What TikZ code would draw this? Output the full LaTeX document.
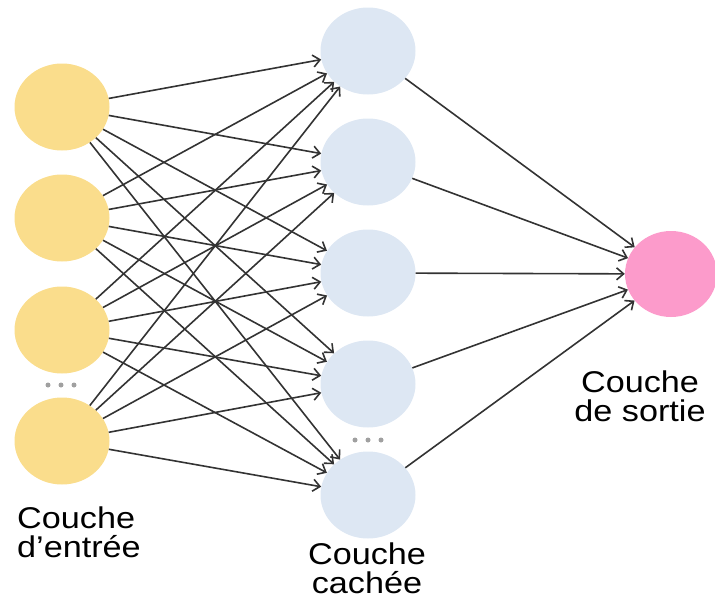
\documentclass[tikz,border=0pt]{standalone}
\usepackage{fontspec}
\setmainfont{Liberation Sans}[FakeStretch=1.14]
\usetikzlibrary{shapes.geometric,arrows.meta}

\definecolor{inputfill}{HTML}{FADD8C}
\definecolor{hiddenfill}{HTML}{DDE7F3}
\definecolor{outputfill}{HTML}{FC9BCB}
\definecolor{edgecol}{HTML}{333333}
\definecolor{dotcol}{HTML}{A0A0A0}

\tikzset{
  neuron/.style={ellipse, inner sep=0pt, minimum width=95pt, minimum height=87pt, draw=none},
  inneuron/.style={neuron, fill=inputfill},
  hidneuron/.style={neuron, fill=hiddenfill},
  outneuron/.style={neuron, fill=outputfill, minimum width=92pt, minimum height=86pt},
  link/.style={draw=edgecol, line width=1.6pt, -{Straight Barb[length=7pt, width=12pt, line width=1.6pt]}},
  ellip/.style={circle, fill=dotcol, inner sep=0pt, minimum size=5pt},
  caption/.style={inner sep=0pt, font=\fontsize{30}{29}\selectfont, text=black}
}

\begin{document}
\begin{tikzpicture}[x=1pt, y=-1pt]
  \useasboundingbox (0,0) rectangle (715,600);

  % input layer
  \node[inneuron] (i1) at (62,107) {};
  \node[inneuron] (i2) at (62,218) {};
  \node[inneuron] (i3) at (62,330) {};
  \node[inneuron] (i4) at (62,441) {};

  % hidden layer
  \node[hidneuron] (h1) at (368,51) {};
  \node[hidneuron] (h2) at (368,162) {};
  \node[hidneuron] (h3) at (368,273) {};
  \node[hidneuron] (h4) at (368,384) {};
  \node[hidneuron] (h5) at (368,495) {};

  % output layer
  \node[outneuron] (o) at (671,274) {};

  % input -> hidden connections
  \foreach \i in {1,...,4} {
    \foreach \h in {1,...,5} {
      \draw[link] (i\i) -- (h\h);
    }
  }

  % hidden -> output connections
  \foreach \h in {1,...,5} {
    \draw[link] (h\h) -- (o);
  }

  % ellipsis marks
  \node[ellip] (ia) at (48,385) {};
  \node[ellip] (ib) at (61,385) {};
  \node[ellip] (ic) at (74,385) {};
  \node[ellip] (ha) at (355,440) {};
  \node[ellip] (hb) at (368,440) {};
  \node[ellip] (hc) at (381,440) {};

  % layer captions
  \node[caption, anchor=north west, align=left] (lin) at (17,507) {Couche\\d’entrée};
  \node[caption, anchor=north, align=center] (lhid) at (367,543) {Couche\\cachée};
  \node[caption, anchor=north, align=center] (lout) at (640,371) {Couche\\de sortie};
\end{tikzpicture}
\end{document}
